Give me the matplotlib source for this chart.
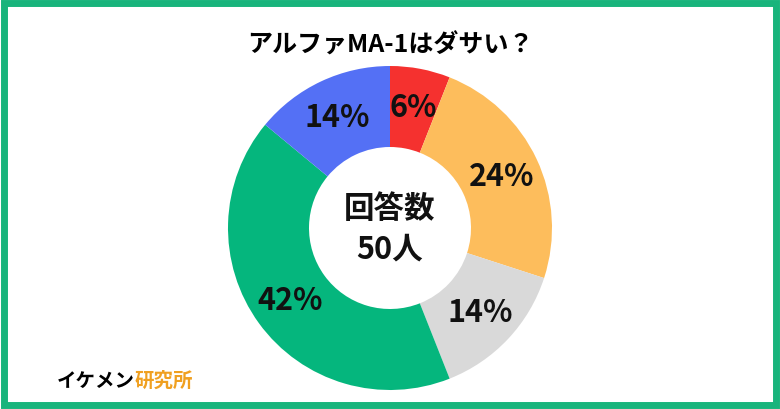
import matplotlib
matplotlib.use("Agg")
import matplotlib.pyplot as plt
from matplotlib.patches import Rectangle
import numpy as np

plt.rcParams['font.family'] = ['Noto Sans CJK JP', 'DejaVu Sans']

labels = ["6%", "24%", "14%", "42%", "14%"]
values = [6, 24, 14, 42, 14]
colors = ["#f5312f", "#fdbd5c", "#d9d9d9", "#05b67d", "#5470f5"]
title = "アルファMA-1はダサい？"
center_text = "回答数\n50人"

W, H = 780, 410
fig = plt.figure(figsize=(7.8, 4.1), dpi=100)
fig.patch.set_facecolor("white")
fig.add_artist(Rectangle((4/W, 4/H), 1-8/W, 1-8/H, transform=fig.transFigure,
                         fill=False, edgecolor="#19b47c", linewidth=5))

cx, cy, R = 390, 229, 162
ax = fig.add_axes([(cx-R)/W, 1-(cy+R)/H, 2*R/W, 2*R/H])
ax.pie(values, colors=colors, startangle=90, counterclock=False,
       wedgeprops=dict(width=0.5, edgecolor="white", linewidth=0))
ax.set_xlim(-1, 1); ax.set_ylim(-1, 1); ax.set_aspect("equal")
ax.axis("off")
ang = 90
for v, l in zip(values, labels):
    a = np.deg2rad(ang - v/100*360/2)
    ang -= v/100*360
    r = 0.76
    ax.text(r*np.cos(a), r*np.sin(a), l, ha="center", va="center",
            fontsize=22, fontweight="bold", color="#111111")
ax.text(0, 0, center_text, ha="center", va="center", fontsize=22,
        fontweight="bold", linespacing=1.35, color="#111111")

fig.text(0.5, 1-45/H, title, ha="center", va="center", fontsize=18, fontweight="bold")
fig.text(57/W, 1-381/H, "イケメン", ha="left", va="center", fontsize=14, fontweight="bold")
fig.text(135/W, 1-381/H, "研究所", ha="left", va="center", fontsize=14, fontweight="bold", color="#f0a020")
fig.savefig("out.png", dpi=100)
